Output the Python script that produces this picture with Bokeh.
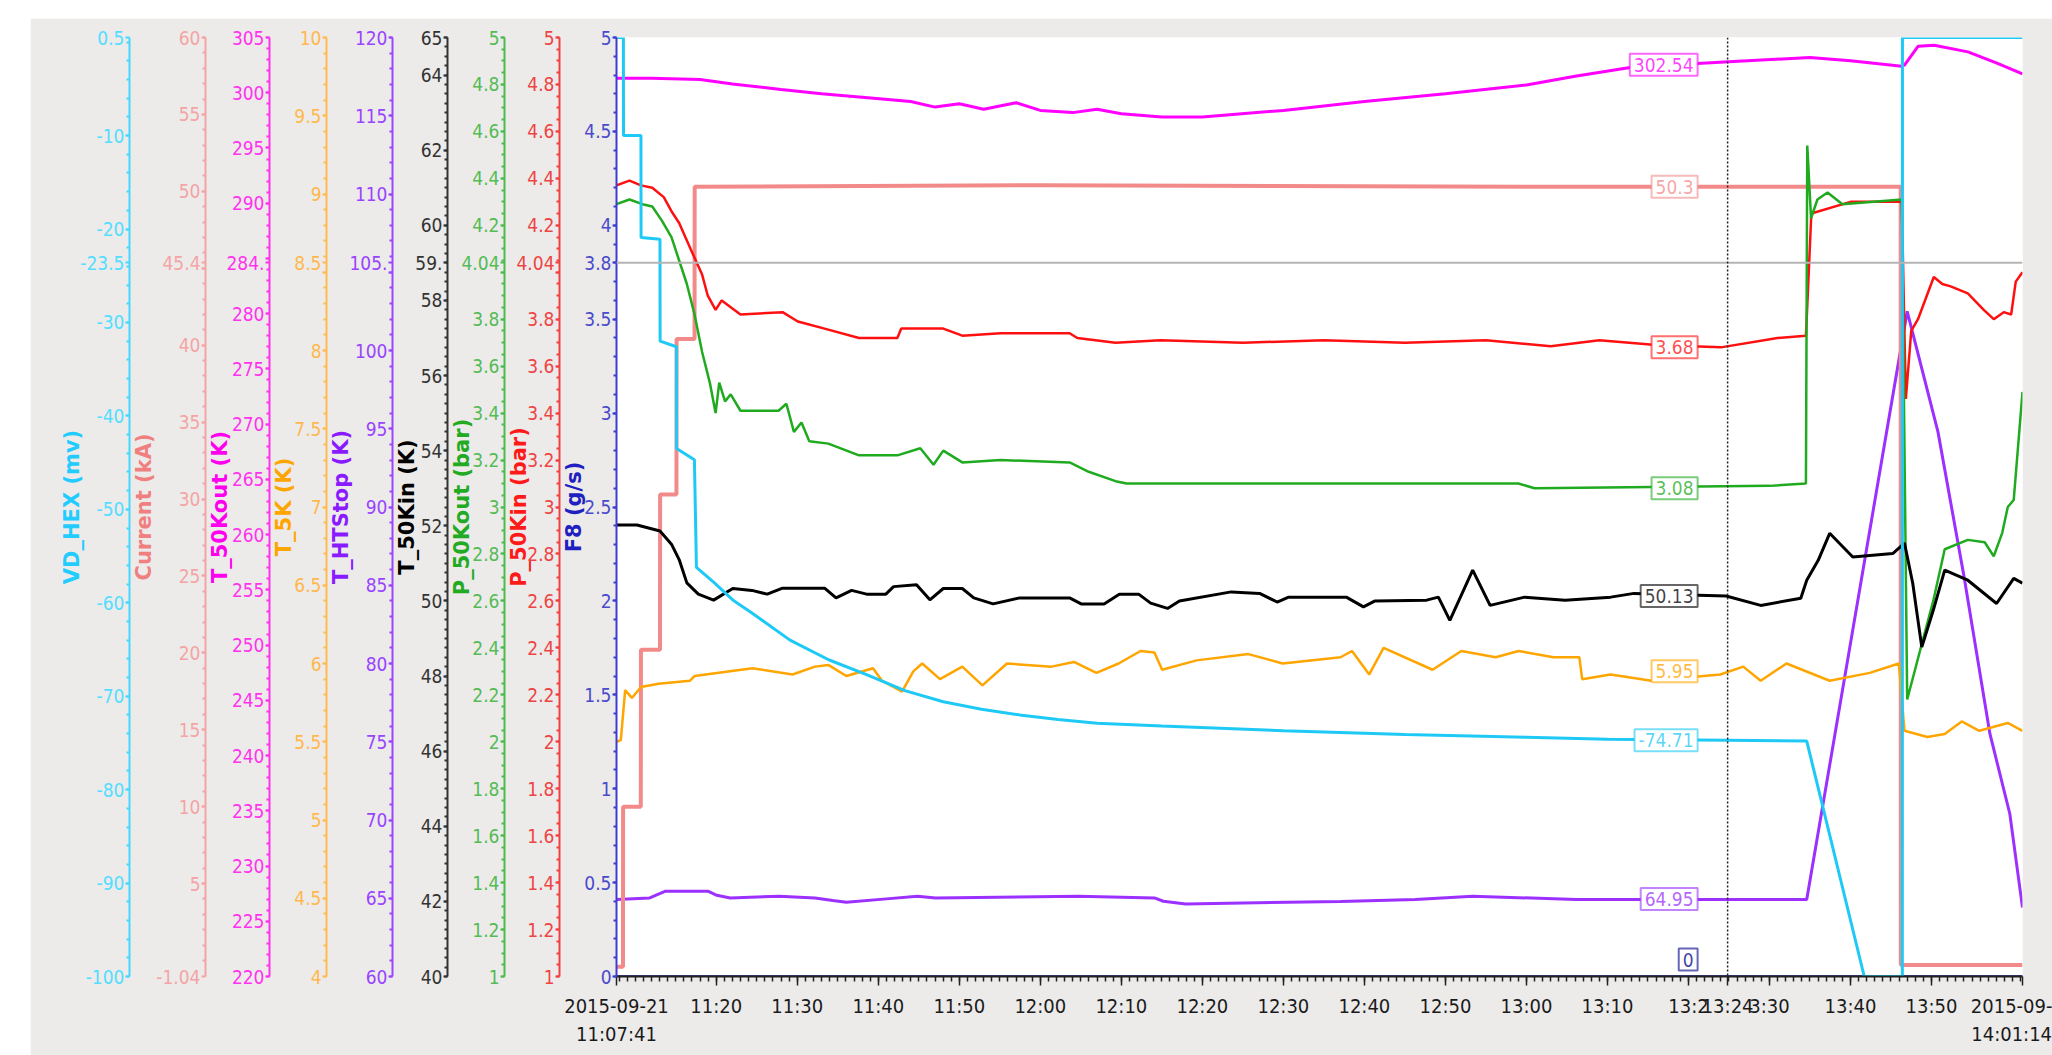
import pandas as pd
from bokeh.plotting import figure
from bokeh.models import LinearAxis, Range1d, FixedTicker, Span, Label
from bokeh.embed import file_html
from bokeh.resources import INLINE

DAY = "2015-09-21 "

# ---------------- data ----------------
vd_hex_time = ["11:07:41", "11:08:32", "11:08:33", "11:10:42", "11:10:43", "11:13:03", "11:13:04",
               "11:15:05", "11:15:06", "11:17:18", "11:17:33", "11:19:40", "11:22:02", "11:24:24",
               "11:29:06", "11:33:52", "11:38:33", "11:43:17", "11:48:01", "11:52:44", "11:57:26",
               "12:02:11", "12:07:00", "12:15:00", "12:30:00", "12:45:00", "13:00:00", "13:10:00",
               "13:24:50", "13:34:36", "13:41:42", "13:46:24", "13:46:25", "14:01:14"]
vd_hex_mv = [0.5, 0.5, -10.0, -10.0, -20.9, -21.1, -32.0, -32.6, -43.5, -44.7, -56.2, -57.8, -59.7, -61.1,
             -64.0, -66.1, -67.7, -69.4, -70.6, -71.4, -72.0, -72.5, -72.9, -73.2, -73.7, -74.1, -74.4, -74.6,
             -74.71, -74.8, -100.0, -100.0, 0.5, 0.5]

current_time = ["11:07:41", "11:08:29", "11:08:30", "11:10:41", "11:10:42", "11:13:03", "11:13:04",
                "11:15:05", "11:15:06", "11:17:19", "11:17:20", "12:00:00", "13:00:00", "13:46:12",
                "13:46:13", "14:01:14"]
current_ka = [-0.4, -0.4, 10.0, 10.0, 20.2, 20.2, 30.3, 30.3, 40.4, 40.4, 50.3, 50.4, 50.3, 50.3, -0.3, -0.3]

t50kout_time = ["11:07:41", "11:12:00", "11:18:00", "11:22:00", "11:28:00", "11:33:00", "11:38:00", "11:44:00",
                "11:47:00", "11:50:00", "11:53:00", "11:57:00", "12:00:00", "12:04:00", "12:07:00", "12:10:00",
                "12:15:00", "12:20:00", "12:30:00", "12:40:00", "12:50:00", "13:00:00", "13:06:00", "13:13:00",
                "13:20:00", "13:25:00", "13:35:00", "13:40:00", "13:46:20", "13:46:40", "13:48:20", "13:50:20",
                "13:54:30", "13:58:00", "14:01:14"]
t50kout_k = [301.3, 301.3, 301.2, 300.8, 300.3, 299.9, 299.6, 299.2, 298.7, 299.0, 298.5, 299.1, 298.4, 298.2,
             298.5, 298.1, 297.8, 297.8, 298.4, 299.2, 299.9, 300.7, 301.5, 302.3, 302.6, 302.8, 303.2, 302.9,
             302.4, 302.5, 304.2, 304.3, 303.7, 302.7, 301.7]

t5k_time = ["11:07:41", "11:08:13", "11:08:45", "11:09:35", "11:10:42", "11:12:53", "11:16:45", "11:17:19",
            "11:24:28", "11:29:25", "11:32:11", "11:33:52", "11:36:03", "11:39:21", "11:40:27", "11:42:56",
            "11:44:19", "11:45:25", "11:47:37", "11:50:22", "11:52:51", "11:55:53", "12:01:23", "12:04:09",
            "12:06:55", "12:09:40", "12:12:22", "12:14:05", "12:15:02", "12:19:17", "12:25:41", "12:29:55",
            "12:37:04", "12:38:28", "12:40:36", "12:42:22", "12:48:25", "12:51:58", "12:56:12", "12:59:02",
            "13:03:20", "13:06:32", "13:06:53", "13:10:24", "13:15:25", "13:23:56", "13:26:46", "13:28:55",
            "13:32:06", "13:37:26", "13:42:23", "13:45:58", "13:46:40", "13:49:30", "13:51:38", "13:53:44",
            "13:55:54", "13:59:25", "14:01:14"]
t5k_k = [5.50, 5.51, 5.83, 5.78, 5.85, 5.87, 5.89, 5.92, 5.97, 5.93, 5.98, 5.99, 5.92, 5.97, 5.89, 5.82,
         5.95, 6.00, 5.90, 5.98, 5.86, 6.00, 5.98, 6.01, 5.94, 6.00, 6.08, 6.07, 5.96, 6.02, 6.06, 6.00,
         6.04, 6.08, 5.93, 6.10, 5.96, 6.08, 6.04, 6.08, 6.04, 6.04, 5.90, 5.93, 5.89, 5.93, 5.98, 5.89,
         6.00, 5.89, 5.94, 6.00, 5.57, 5.53, 5.55, 5.63, 5.57, 5.62, 5.57]

thtstop_time = ["11:07:41", "11:11:47", "11:13:44", "11:18:58", "11:20:04", "11:21:43", "11:27:47", "11:32:11",
                "11:34:23", "11:36:03", "11:41:00", "11:44:50", "11:47:04", "12:04:43", "12:14:05", "12:15:11",
                "12:17:56", "12:37:04", "12:46:17", "12:53:22", "13:06:11", "13:34:36", "13:47:00", "13:50:48",
                "13:54:00", "13:57:13", "13:59:40", "14:01:14"]
thtstop_k = [64.92, 65.02, 65.45, 65.45, 65.19, 65.02, 65.13, 65.02, 64.85, 64.74, 64.96, 65.13, 65.02, 65.13,
             65.02, 64.81, 64.63, 64.80, 64.92, 65.13, 64.92, 64.92, 102.5, 94.8, 85.6, 75.5, 70.4, 64.4]

t50kin_time = ["11:07:41", "11:10:13", "11:13:03", "11:14:28", "11:15:25", "11:16:22", "11:17:47", "11:19:40",
               "11:22:02", "11:24:24", "11:26:17", "11:28:11", "11:33:22", "11:34:47", "11:36:42", "11:38:33",
               "11:40:56", "11:41:53", "11:44:43", "11:46:22", "11:48:01", "11:50:22", "11:51:47", "11:54:10",
               "11:57:26", "12:03:37", "12:05:02", "12:07:52", "12:09:45", "12:12:08", "12:13:37", "12:15:42",
               "12:17:10", "12:23:34", "12:27:04", "12:29:14", "12:30:39", "12:37:46", "12:39:53", "12:41:19",
               "12:47:41", "12:49:08", "12:50:33", "12:53:22", "12:55:31", "12:59:47", "13:04:46", "13:10:24",
               "13:13:17", "13:24:39", "13:28:55", "13:33:52", "13:34:36", "13:36:01", "13:37:26", "13:40:17",
               "13:45:13", "13:46:40", "13:47:41", "13:48:48", "13:50:13", "13:51:38", "13:54:29", "13:58:02",
               "14:00:09", "14:01:14"]
t50kin_k = [52.02, 52.02, 51.86, 51.51, 51.10, 50.48, 50.18, 50.02, 50.33, 50.28, 50.18, 50.34, 50.34, 50.08,
            50.28, 50.18, 50.18, 50.38, 50.43, 50.03, 50.33, 50.33, 50.08, 49.92, 50.08, 50.08, 49.92, 49.92,
            50.18, 50.18, 49.94, 49.80, 50.00, 50.24, 50.20, 49.97, 50.10, 50.10, 49.84, 50.00, 50.02, 50.10,
            49.48, 50.82, 49.88, 50.10, 50.02, 50.10, 50.20, 50.13, 49.88, 50.07, 50.55, 51.08, 51.80, 51.17,
            51.26, 51.54, 50.47, 48.77, 49.75, 50.82, 50.55, 49.93, 50.60, 50.47]

p50kout_time = ["11:07:41", "11:09:17", "11:10:53", "11:12:06", "11:13:17", "11:14:28", "11:15:25", "11:16:22",
                "11:17:19", "11:18:15", "11:19:12", "11:19:55", "11:20:22", "11:21:05", "11:21:47", "11:22:59",
                "11:27:41", "11:28:39", "11:29:35", "11:30:31", "11:31:29", "11:33:50", "11:37:37", "11:42:21",
                "11:45:11", "11:46:49", "11:48:01", "11:50:22", "11:55:05", "12:03:37", "12:05:58", "12:09:17",
                "12:10:39", "12:30:00", "12:59:00", "13:01:00", "13:30:00", "13:34:30", "13:34:40", "13:35:08",
                "13:35:55", "13:37:10", "13:39:00", "13:46:20", "13:47:00", "13:48:36", "13:50:13", "13:51:38",
                "13:54:29", "13:56:34", "13:57:41", "13:58:44", "13:59:25", "14:00:09", "14:01:14"]
p50kout_bar = [4.29, 4.31, 4.29, 4.28, 4.22, 4.15, 4.05, 3.95, 3.82, 3.66, 3.53, 3.40, 3.53, 3.45, 3.48, 3.41,
               3.41, 3.44, 3.32, 3.36, 3.28, 3.27, 3.22, 3.22, 3.25, 3.18, 3.24, 3.19, 3.20, 3.19, 3.15, 3.11,
               3.10, 3.10, 3.10, 3.08, 3.09, 3.10, 4.54, 4.23, 4.31, 4.34, 4.29, 4.31, 2.18, 2.39, 2.60, 2.82,
               2.86, 2.85, 2.79, 2.89, 3.00, 3.03, 3.49]

p50kin_time = ["11:07:41", "11:09:17", "11:10:42", "11:12:06", "11:13:31", "11:14:28", "11:15:25", "11:16:49",
               "11:18:15", "11:18:57", "11:19:55", "11:20:40", "11:22:59", "11:28:11", "11:30:04", "11:33:22",
               "11:37:37", "11:42:21", "11:42:50", "11:48:01", "11:50:22", "11:55:05", "12:03:37", "12:04:34",
               "12:09:17", "12:14:50", "12:25:00", "12:35:00", "12:45:00", "12:55:00", "13:03:00", "13:09:00",
               "13:16:00", "13:24:00", "13:31:00", "13:34:30", "13:34:35", "13:35:10", "13:40:00", "13:46:20",
               "13:46:50", "13:47:30", "13:48:20", "13:50:17", "13:51:20", "13:52:22", "13:54:29", "13:56:27",
               "13:57:41", "13:58:55", "13:59:50", "14:00:24", "14:01:14"]
p50kin_bar = [4.37, 4.39, 4.37, 4.36, 4.32, 4.26, 4.21, 4.10, 3.99, 3.90, 3.84, 3.88, 3.82, 3.83, 3.79, 3.76,
              3.72, 3.72, 3.76, 3.76, 3.73, 3.74, 3.74, 3.72, 3.70, 3.71, 3.70, 3.71, 3.70, 3.71, 3.685, 3.71,
              3.69, 3.68, 3.72, 3.73, 3.79, 4.25, 4.30, 4.30, 3.46, 3.75, 3.80, 3.98, 3.95, 3.94, 3.91, 3.84,
              3.80, 3.83, 3.82, 3.96, 4.00]

f8_time = ["11:07:41", "11:20:00", "11:30:00", "11:40:00", "11:50:00", "12:00:00", "12:10:00", "12:20:00",
           "12:30:00", "12:40:00", "12:50:00", "13:00:00", "13:10:00", "13:20:00", "13:30:00", "13:40:00",
           "13:50:00", "14:01:14"]
f8_gs = [0.0, 0.0, 0.0, 0.0, 0.0, 0.0, 0.0, 0.0, 0.0, 0.0, 0.0, 0.0, 0.0, 0.0, 0.0, 0.0, 0.0, 0.0]

# axis scales and tick labels
vd_hex_ticks = [-100, -90, -80, -70, -60, -50, -40, -30, -20, -10, 0.5]
current_ticks = [-1.04, 5, 10, 15, 20, 25, 30, 35, 40, 45, 50, 55, 60]
t50kout_ticks = [220, 225, 230, 235, 240, 245, 250, 255, 260, 265, 270, 275, 280, 285, 290, 295, 300, 305]
t5k_ticks = [4, 4.5, 5, 5.5, 6, 6.5, 7, 7.5, 8, 8.5, 9, 9.5, 10]
thtstop_ticks = [60, 65, 70, 75, 80, 85, 90, 95, 100, 105, 110, 115, 120]
t50kin_ticks = [40, 42, 44, 46, 48, 50, 52, 54, 56, 58, 60, 62, 64, 65]
p_ticks = [1, 1.2, 1.4, 1.6, 1.8, 2, 2.2, 2.4, 2.6, 2.8, 3, 3.2, 3.4, 3.6, 3.8, 4, 4.2, 4.4, 4.6, 4.8, 5]
f8_ticks = [0, 0.5, 1, 1.5, 2, 2.5, 3, 3.5, 4, 4.5, 5]

x_start, x_end = "11:07:41", "14:01:14"
x_tick_labels = ["11:20", "11:30", "11:40", "11:50", "12:00", "12:10", "12:20", "12:30", "12:40",
                 "12:50", "13:00", "13:10", "13:20", "13:30", "13:40", "13:50"]
# labels partly hidden behind the cursor read-out box
x_hidden_labels = {"13:20": "13:2", "13:30": "3:30"}

# cursor read-outs
cursor_time = "13:24:50"
cursor_label = "13:24"
cursor_f8 = 3.8
axis_readout = {"VD_HEX": "-23.5", "Current": "45.4", "T_50Kout": "284.", "T_5K": "8.5",
                "T_HTStop": "105.", "T_50Kin": "59.", "P_50Kout": "4.04", "P_50Kin": "4.04", "F8": "3.8"}
# tick labels covered by the read-out boxes
axis_hidden_ticks = {"Current": [45], "T_50Kout": [285], "T_5K": [8.5], "T_HTStop": [105],
                     "P_50Kout": [4], "P_50Kin": [4]}
point_readout_series = ["T_50Kout", "Current", "P_50Kin", "P_50Kout", "T_50Kin", "T_5K", "VD_HEX", "T_HTStop", "F8"]
point_readout_value = [302.54, 50.3, 3.68, 3.08, 50.13, 5.95, -74.71, 64.95, 0.0]
point_readout_text = ["302.54", "50.3", "3.68", "3.08", "50.13", "5.95", "-74.71", "64.95", "0"]

# ---------------- helpers ----------------
def ms(t):
    return pd.Timestamp(DAY + t).value / 1e6

def dts(lst):
    return pd.to_datetime([DAY + t for t in lst])

def minor(lo, hi, step):
    n = int(round((hi - lo) / step))
    return [round(lo + i * step, 4) for i in range(n + 1)]

def label_str(v):
    return ("%g" % v)

TICK_FONT = "DejaVu Sans Condensed"
TITLE_FONT = "DejaVu Sans"

# key, title, lo, hi, ticks, minor lo, minor step, axis colour, tick colour, title colour, title standoff
axis_defs = [
    ("F8", "F8 (g/s)", 0, 5, f8_ticks, 0, 0.1, "#3c3cd2", "#4a4acc", "#2020c0", -5),
    ("P_50Kin", "P_50Kin (bar)", 1, 5, p_ticks, 1, 0.05, "#f04040", "#ee4444", "#ff1a1a", -18),
    ("P_50Kout", "P_50Kout (bar)", 1, 5, p_ticks, 1, 0.05, "#4cbb4c", "#55bb55", "#22aa22", -16),
    ("T_50Kin", "T_50Kin (K)", 40, 65, t50kin_ticks, 40, 0.25, "#333333", "#333333", "#000000", -7),
    ("T_HTStop", "T_HTStop (K)", 60, 120, thtstop_ticks, 60, 1, "#9c44ff", "#9944ff", "#8a1aff", -7),
    ("T_5K", "T_5K (K)", 4, 10, t5k_ticks, 4, 0.1, "#ffbb50", "#ffb84d", "#ffa500", -5),
    ("T_50Kout", "T_50Kout (K)", 220, 305, t50kout_ticks, 220, 1, "#ff33ee", "#ff33ee", "#ff00ee", -9),
    ("Current", "Current (kA)", -1.04, 60, current_ticks, 0, 1, "#f4a4a4", "#f4a4a4", "#f08080", -3),
    ("VD_HEX", "VD_HEX (mv)", -100, 0.5, vd_hex_ticks, -100, 2, "#44d8ff", "#55ddff", "#22ccff", -7),
]

series = [
    # key, times, values, colour, width
    ("F8", f8_time, f8_gs, "#000088", 2.5),
    ("T_HTStop", thtstop_time, thtstop_k, "#9b30ff", 3),
    ("Current", current_time, current_ka, "#f28a8a", 4),
    ("P_50Kin", p50kin_time, p50kin_bar, "#ff1010", 2.5),
    ("P_50Kout", p50kout_time, p50kout_bar, "#1faa1f", 2.5),
    ("T_50Kin", t50kin_time, t50kin_k, "#000000", 3),
    ("T_5K", t5k_time, t5k_k, "#ffa500", 2.5),
    ("T_50Kout", t50kout_time, t50kout_k, "#ff00ff", 3),
    ("VD_HEX", vd_hex_time, vd_hex_mv, "#1ecaf5", 3),
]
series_colour = {s[0]: s[3] for s in series}

# ---------------- figure ----------------
p = figure(width=2022, height=1037, x_axis_type="datetime", y_axis_location=None,
           x_range=Range1d(ms(x_start), ms(x_end)), y_range=Range1d(0, 5),
           output_backend="svg", toolbar_location=None)
p.margin = (18, 0, 0, 30)
p.min_border_left = 586
p.min_border_right = 30
p.min_border_top = 19
p.min_border_bottom = 79
p.border_fill_color = "#ECEBEA"
p.background_fill_color = "#ffffff"
p.outline_line_color = None
p.grid.visible = False

cursor_frac = cursor_f8 / 5.0
for key, title, lo, hi, ticks, mlo, mstep, acol, tcol, lcol, stand in axis_defs:
    if key != "F8":
        p.extra_y_ranges[key] = Range1d(lo, hi)
    ax = LinearAxis(y_range_name="default" if key == "F8" else key)
    readout_at = round(lo + cursor_frac * (hi - lo), 4)
    ax.ticker = FixedTicker(ticks=list(ticks) + [readout_at], minor_ticks=minor(mlo, ticks[-1], mstep))
    ov = {t: label_str(t) for t in ticks}
    for t in axis_hidden_ticks.get(key, []):
        ov[t] = ""
    ov[readout_at] = axis_readout[key]
    ax.major_label_overrides = ov
    ax.axis_line_color = acol
    ax.axis_line_width = 2
    ax.major_tick_line_color = acol
    ax.major_tick_line_width = 2
    ax.major_tick_out = 4
    ax.major_tick_in = 0
    ax.minor_tick_line_color = acol
    ax.minor_tick_line_width = 2
    ax.minor_tick_out = 3
    ax.minor_tick_in = 0
    ax.major_label_text_color = tcol
    ax.major_label_text_font = TICK_FONT
    ax.major_label_text_font_size = "19px"
    ax.major_label_standoff = 1
    ax.axis_label = title
    ax.axis_label_text_color = lcol
    ax.axis_label_text_font = TITLE_FONT
    ax.axis_label_text_font_style = "bold"
    ax.axis_label_text_font_size = "21px"
    ax.axis_label_standoff = stand
    p.add_layout(ax, "left")

# x axis
xa = p.xaxis[0]
x_major = [ms(x_start)] + [ms(t + ":00") for t in x_tick_labels] + [ms(cursor_time), ms(x_end)]
x_minor = [ms("11:%02d:00" % m) for m in range(8, 60)] + [ms("12:%02d:00" % m) for m in range(0, 60)] + \
          [ms("13:%02d:00" % m) for m in range(0, 60)] + [ms("14:00:00"), ms("14:01:00")]
xa.ticker = FixedTicker(ticks=x_major, minor_ticks=x_minor)
overrides = {ms(t + ":00"): x_hidden_labels.get(t, t) for t in x_tick_labels}
overrides[ms(x_start)] = "2015-09-21\n" + x_start
overrides[ms(x_end)] = "2015-09-\n" + x_end
overrides[ms(cursor_time)] = cursor_label
xa.major_label_overrides = overrides
xa.axis_line_color = "#222222"
xa.axis_line_width = 2
xa.major_tick_line_color = "#222222"
xa.major_tick_line_width = 1.5
xa.major_tick_out = 9
xa.major_tick_in = 0
xa.minor_tick_line_color = "#222222"
xa.minor_tick_line_width = 1.5
xa.minor_tick_out = 5
xa.minor_tick_in = 0
xa.major_label_text_font = TICK_FONT
xa.major_label_text_font_size = "20px"
xa.major_label_text_color = "#1a1a1a"
xa.major_label_standoff = 8

# series
for key, tlist, vals, col, lw in series:
    rn = "default" if key == "F8" else key
    p.line(dts(tlist), vals, line_color=col, line_width=lw, y_range_name=rn)

# cursor lines
p.add_layout(Span(location=cursor_f8, dimension="width", line_color="#b4b4b4", line_width=2))
p.add_layout(Span(location=ms(cursor_time), dimension="height", line_color="#222222",
                  line_width=1.5, line_dash="2 2"))

# read-outs at the cursor
for key, val, txt in zip(point_readout_series, point_readout_value, point_readout_text):
    rn = "default" if key == "F8" else key
    p.add_layout(Label(x=ms(cursor_time), y=val, y_range_name=rn, x_offset=-30,
                       text=txt, text_align="right",
                       text_baseline="bottom" if key == "F8" else "middle",
                       y_offset=6 if key == "F8" else 0,
                       text_font=TICK_FONT, text_font_size="19px", text_color=series_colour[key],
                       text_alpha=0.75, border_line_color=series_colour[key], border_line_alpha=0.6,
                       border_line_width=2, background_fill_color="#ffffff", padding=4))

open("out.html", "w").write(file_html(p, INLINE))
